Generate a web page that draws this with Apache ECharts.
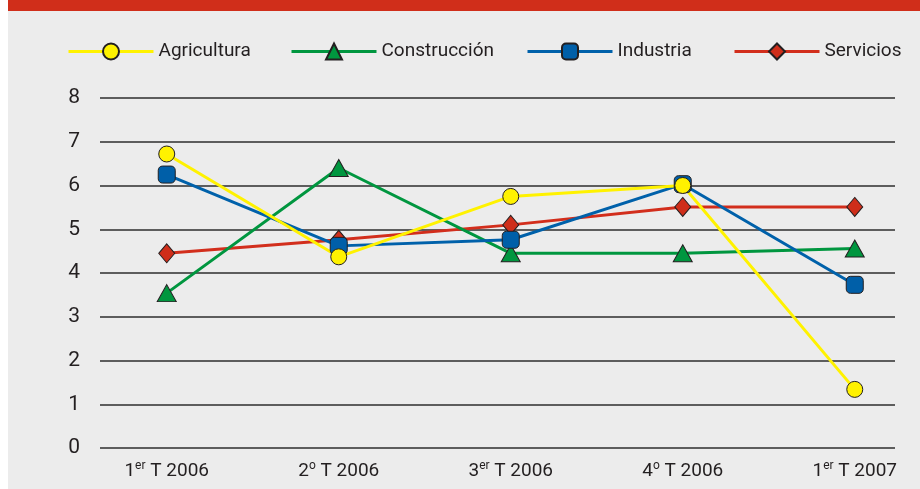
<!DOCTYPE html>
<html>
<head>
<meta charset="utf-8">
<script src="https://cdn.jsdelivr.net/npm/echarts@6/dist/echarts.min.js"></script>
<style>
html,body{margin:0;padding:0;background:#ffffff;}
#chart{width:920px;height:489px;}
</style>
</head>
<body>
<div id="chart"></div>
<script>
// ---- data ----
var categories = [
  {num: '1', sup: 'er', rest: ' T 2006'},
  {num: '2', sup: 'o', rest: ' T 2006'},
  {num: '3', sup: 'er', rest: ' T 2006'},
  {num: '4', sup: 'o', rest: ' T 2006'},
  {num: '1', sup: 'er', rest: ' T 2007'}
];
var seriesNames = ['Agricultura', 'Construcción', 'Industria', 'Servicios'];
var agricultura = [6.72, 4.37, 5.75, 6.0, 1.34];
var construccion = [3.54, 6.4, 4.45, 4.45, 4.56];
var industria = [6.25, 4.62, 4.76, 6.03, 3.73];
var servicios = [4.45, 4.76, 5.1, 5.51, 5.51];
var yTicks = [0, 1, 2, 3, 4, 5, 6, 7, 8];

var FONT = 'Roboto, "Liberation Sans", sans-serif';
var TXT = '#231f20';

function pairs(arr) { return arr.map(function (v, i) { return [i, v]; }); }

var chart = echarts.init(document.getElementById('chart'), null, {renderer: 'canvas'});

function legendAt(name, left) {
  return {
    data: [name],
    left: left,
    top: 37,
    itemWidth: 85,
    itemHeight: 20,
    selectedMode: false,
    lineStyle: {width: 3},
    textStyle: {fontFamily: FONT, fontSize: 19, color: TXT}
  };
}

var markerBorder = {borderColor: TXT, borderWidth: 1};

var option = {
  backgroundColor: '#ffffff',
  animation: false,
  graphic: [
    {type: 'rect', z: -10, shape: {x: 8, y: 0, width: 912, height: 489}, style: {fill: '#ececec'}},
    {type: 'rect', z: -9, shape: {x: 8, y: 0, width: 912, height: 11}, style: {fill: '#d02e1a'}}
  ],
  legend: [
    legendAt(seriesNames[0], 62),
    legendAt(seriesNames[1], 285),
    legendAt(seriesNames[2], 521),
    legendAt(seriesNames[3], 728)
  ],
  grid: {left: 100, right: 25, top: 98, bottom: 41},
  xAxis: {
    type: 'value',
    min: -0.388,
    max: 4.234,
    axisLine: {show: false},
    axisTick: {show: false},
    splitLine: {show: false},
    axisLabel: {
      customValues: [0, 1, 2, 3, 4],
      margin: 12,
      fontFamily: FONT,
      fontSize: 19,
      color: TXT,
      formatter: function (v) {
        var c = categories[Math.round(v)];
        if (!c) return '';
        return '{n|' + c.num + '}{s|' + c.sup + '}{n|' + c.rest + '}';
      },
      rich: {
        n: {fontFamily: FONT, fontSize: 19, color: TXT, lineHeight: 22},
        s: {fontFamily: FONT, fontSize: 12, color: TXT, verticalAlign: 'top', padding: [0, 0, 9, 0], lineHeight: 22}
      }
    }
  },
  yAxis: {
    type: 'value',
    min: yTicks[0],
    max: yTicks[yTicks.length - 1],
    interval: 1,
    axisLine: {show: false},
    axisTick: {show: false},
    axisLabel: {fontFamily: FONT, fontSize: 21, color: TXT, margin: 20},
    splitLine: {lineStyle: {color: '#2e2e2e', width: 1.5}}
  },
  series: [
    {
      name: seriesNames[3], type: 'line', data: pairs(servicios),
      symbol: 'diamond', symbolSize: [16, 19],
      lineStyle: {color: '#d22e1c', width: 3},
      itemStyle: Object.assign({color: '#cf2e1a'}, markerBorder)
    },
    {
      name: seriesNames[1], type: 'line', data: pairs(construccion),
      symbol: 'triangle', symbolSize: [19, 17],
      lineStyle: {color: '#00963f', width: 3},
      itemStyle: Object.assign({color: '#00963f'}, markerBorder)
    },
    {
      name: seriesNames[2], type: 'line', data: pairs(industria),
      symbol: 'roundRect', symbolSize: 17,
      lineStyle: {color: '#0061aa', width: 3},
      itemStyle: Object.assign({color: '#005fa8'}, markerBorder)
    },
    {
      name: seriesNames[0], type: 'line', data: pairs(agricultura),
      symbol: 'circle', symbolSize: 16,
      lineStyle: {color: '#fff200', width: 3},
      itemStyle: Object.assign({color: '#fff200'}, markerBorder)
    }
  ]
};
chart.setOption(option);
</script>
</body>
</html>
